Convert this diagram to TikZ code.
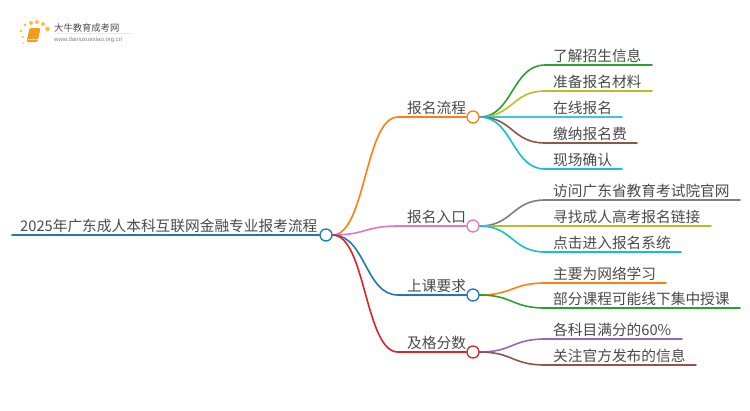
\documentclass[tikz,border=0pt]{standalone}
\usepackage{fontspec}
\setmainfont{Noto Sans CJK SC}
\setsansfont{Liberation Sans}
\definecolor{cOrange}{HTML}{FF7F0E}
\definecolor{cBlue}{HTML}{1F77B4}
\definecolor{cGreen}{HTML}{2CA02C}
\definecolor{cRed}{HTML}{D62728}
\definecolor{cPurple}{HTML}{9467BD}
\definecolor{cBrown}{HTML}{8C564B}
\definecolor{cPink}{HTML}{E377C2}
\definecolor{cGray}{HTML}{7F7F7F}
\definecolor{cOlive}{HTML}{BCBD22}
\definecolor{cCyan}{HTML}{17BECF}
\definecolor{cTeal}{HTML}{3CC8D0}
\definecolor{cText}{HTML}{4A4A4A}
\definecolor{cBook}{HTML}{F59A1E}
\definecolor{cDot}{HTML}{F8C04A}
\tikzset{
  hub/.style={circle,draw=#1,fill=white,line width=1.3pt,minimum size=12pt,inner sep=0pt},
  wire/.style={line width=1.6pt,line cap=round},
  lab/.style={anchor=base west,inner sep=0pt,text=cText,font=\fontsize{14.7}{16}\selectfont},
}
\pgfdeclarelayer{bg}
\pgfsetlayers{bg,main}
% name, hub, y, end x, colour, text
\newcommand{\leafnode}[6]{%
  \coordinate (#1s) at (545,#3);
  \coordinate (#1e) at (#4,#3);
  \node[lab] (#1) at (553,#3-4) {#6};
  \begin{pgfonlayer}{bg}
  \draw[wire,#5] (#2.east) .. controls +(33,0) and (512,#3) .. (#1s) -- (#1e);
  \end{pgfonlayer}
}
% name, y, colour, text, hub name
\newcommand{\branchnode}[5]{%
  \coordinate (#1s) at (398,#2);
  \node[lab] (#1) at (407,#2-4) {#4};
  \node[hub=#3] (#5) at (473,#2) {};
  \begin{pgfonlayer}{bg}
  \draw[wire,#3] (root.east) .. controls +(33,0) and (365,#2) .. (#1s) -- (#5.west);
  \end{pgfonlayer}
}
\begin{document}
\begin{tikzpicture}[x=1pt,y=-1pt]
\useasboundingbox (0,0) rectangle (750,410);
% logo
\foreach \a/\b/\r in {23/43/0.9,23/37/1.2,21/31/1.4,25/25/1.7,31/23/2,37/22/2,43/24/2,47.5/29/2.3}
  \fill[cDot] (\a,\b) circle (\r);
\fill[cBook,rounded corners=1.5pt] (29.5,28) -- (40.5,28) -- (37.5,42) -- (26.5,42) -- cycle;
\draw[white!85!orange,line width=0.6pt] (28,39.5) -- (37.5,39.5);
\draw[black!8,line width=0.5pt] (54,33.5) -- (133,33.5);
\node[inner sep=0pt,anchor=base west,text=cText,font=\fontsize{9.3}{10}\selectfont] (logoa) at (54,31) {大牛教育成考网};
\node[inner sep=0pt,anchor=base west,text=cGray,font=\sffamily\fontsize{6}{6}\selectfont] (logob) at (54,41) {www.daniuxuexiao.org.cn};
% root
\coordinate (roots) at (12,235);
\node[lab] (roottext) at (20,231) {2025年广东成人本科互联网金融专业报考流程};
\node[hub=cBlue] (root) at (326,235) {};
\begin{pgfonlayer}{bg}
\draw[wire,cBlue] (roots) -- (root.west);
\end{pgfonlayer}
\branchnode{ba}{117}{cOrange}{报名流程}{ha}
\branchnode{bb}{226}{cPink}{报名入口}{hb}
\branchnode{bc}{295}{cBlue}{上课要求}{hc}
\branchnode{bd}{352}{cRed}{及格分数}{hd}
\leafnode{la}{ha}{65}{652}{cGreen}{了解招生信息}
\leafnode{lb}{ha}{91}{652}{cOlive}{准备报名材料}
\leafnode{lc}{ha}{117}{622}{cTeal}{在线报名}
\leafnode{ld}{ha}{143}{637}{cBrown}{缴纳报名费}
\leafnode{le}{ha}{169}{622}{cCyan}{现场确认}
\leafnode{lf}{hb}{200}{740}{cGray}{访问广东省教育考试院官网}
\leafnode{lg}{hb}{226}{711}{cOlive}{寻找成人高考报名链接}
\leafnode{lh}{hb}{252}{681}{cCyan}{点击进入报名系统}
\leafnode{li}{hc}{283}{666}{cOrange}{主要为网络学习}
\leafnode{lj}{hc}{308}{740}{cGreen}{部分课程可能线下集中授课}
\leafnode{lk}{hd}{339}{682}{cPurple}{各科目满分的60\%}
\leafnode{ll}{hd}{365}{696}{cBrown}{关注官方发布的信息}
\end{tikzpicture}
\end{document}
